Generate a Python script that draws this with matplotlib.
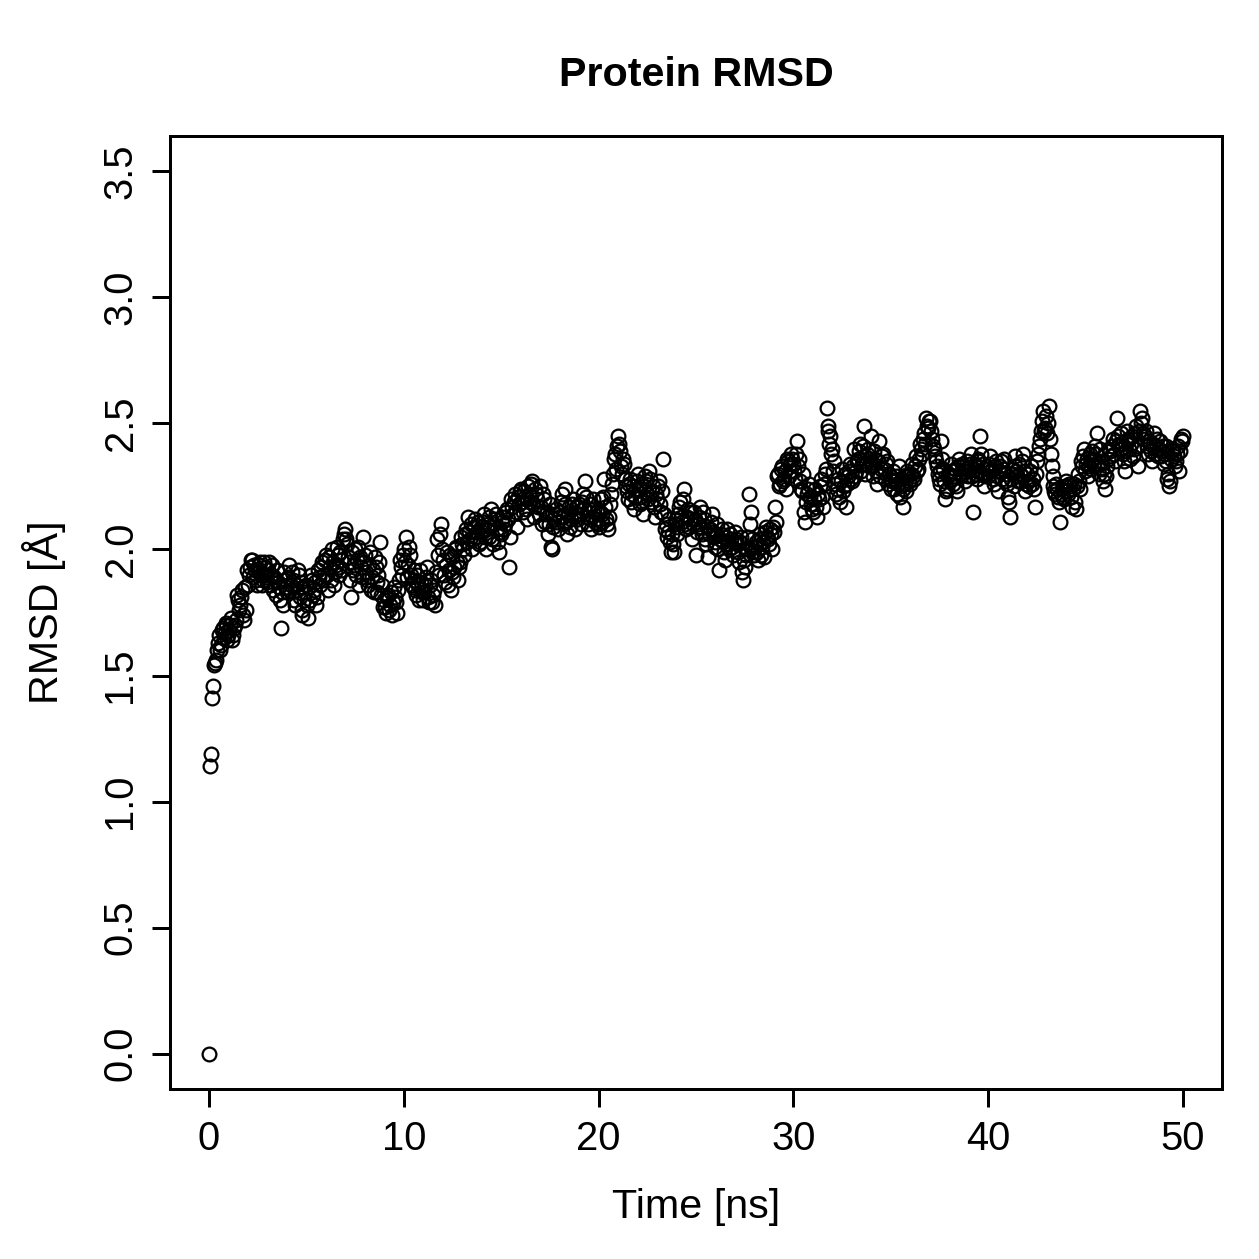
import matplotlib
matplotlib.use("Agg")
import matplotlib.pyplot as plt
import numpy as np

plt.rcParams['font.family'] = ['Liberation Sans', 'DejaVu Sans']

# RMSD values, one row per ns.
# frames at whole tenths of a ns (0.0, 0.1, ... 50.0)
rmsd_a = [
    0.00, 1.19, 1.46, 1.55, 1.60, 1.66, 1.62, 1.69, 1.67, 1.70,
    1.66, 1.70, 1.64, 1.69, 1.72, 1.80, 1.78, 1.84, 1.72, 1.76,
    1.86, 1.93, 1.96, 1.94, 1.88, 1.92, 1.95, 1.86, 1.90, 1.93,
    1.87, 1.95, 1.90, 1.84, 1.88, 1.92, 1.85, 1.69, 1.78, 1.88,
    1.83, 1.94, 1.86, 1.88, 1.78, 1.84, 1.90, 1.87, 1.74, 1.80,
    1.86, 1.73, 1.80, 1.88, 1.84, 1.78, 1.92, 1.86, 1.95, 1.90,
    1.98, 1.84, 1.93, 2.00, 1.86, 1.94, 1.98, 1.90, 1.96, 2.04,
    2.08, 2.02, 1.95, 1.81, 1.92, 2.00, 1.96, 1.86, 1.93, 2.05,
    1.98, 1.88, 1.94, 1.84, 1.92, 1.97, 1.83, 1.90, 2.03, 1.86,
    1.80, 1.75, 1.82, 1.78, 1.74, 1.85, 1.79, 1.84, 1.96, 1.90,
    2.00, 2.05, 1.94, 1.98, 1.86, 1.92, 1.84, 1.90, 1.80, 1.87,
    1.80, 1.86, 1.93, 1.79, 1.88, 1.82, 1.78, 2.04, 1.90, 2.10,
    1.96, 1.87, 1.99, 1.92, 1.84, 1.97, 1.93, 2.01, 1.88, 1.95,
    2.02, 1.98, 2.08, 2.13, 2.04, 2.00, 2.09, 2.05, 2.11, 2.03,
    2.07, 2.14, 2.00, 2.10, 2.05, 2.16, 2.02, 2.12, 2.08, 1.99,
    2.06, 2.13, 2.10, 2.16, 1.93, 2.20, 2.14, 2.22, 2.09, 2.18,
    2.24, 2.15, 2.21, 2.12, 2.25, 2.19, 2.27, 2.13, 2.22, 2.17,
    2.25, 2.10, 2.20, 2.14, 2.06, 2.18, 2.00, 2.12, 2.16, 2.08,
    2.15, 2.22, 2.10, 2.24, 2.06, 2.17, 2.12, 2.20, 2.08, 2.14,
    2.18, 2.10, 2.22, 2.27, 2.13, 2.16, 2.08, 2.20, 2.11, 2.15,
    2.09, 2.20, 2.14, 2.28, 2.12, 2.08, 2.18, 2.26, 2.36, 2.32,
    2.45, 2.39, 2.30, 2.34, 2.25, 2.20, 2.28, 2.22, 2.16, 2.24,
    2.30, 2.18, 2.26, 2.14, 2.29, 2.22, 2.31, 2.19, 2.25, 2.13,
    2.20, 2.27, 2.15, 2.36, 2.08, 2.05, 2.12, 1.99, 2.02, 2.10,
    2.06, 2.14, 2.19, 2.11, 2.24, 2.08, 2.16, 2.12, 2.04, 2.15,
    1.98, 2.10, 2.17, 2.06, 2.12, 2.02, 1.97, 2.08, 2.14, 2.05,
    2.01, 2.10, 1.92, 2.06, 2.03, 1.96, 2.08, 2.00, 2.04, 1.98,
    2.07, 2.02, 1.95, 2.05, 1.88, 1.93, 2.00, 2.22, 2.15, 2.04,
    1.98, 2.03, 1.96, 2.06, 2.01, 1.97, 2.09, 2.04, 2.08, 2.00,
    2.07, 2.11, 2.30, 2.26, 2.33, 2.28, 2.24, 2.35, 2.31, 2.38,
    2.34, 2.28, 2.43, 2.36, 2.24, 2.30, 2.11, 2.22, 2.26, 2.18,
    2.15, 2.24, 2.13, 2.20, 2.28, 2.17, 2.30, 2.56, 2.49, 2.45,
    2.40, 2.35, 2.22, 2.28, 2.19, 2.32, 2.25, 2.17, 2.29, 2.34,
    2.27, 2.40, 2.31, 2.36, 2.42, 2.34, 2.49, 2.30, 2.38, 2.33,
    2.45, 2.29, 2.36, 2.26, 2.43, 2.32, 2.38, 2.28, 2.35, 2.30,
    2.24, 2.31, 2.27, 2.22, 2.33, 2.25, 2.17, 2.29, 2.23, 2.30,
    2.26, 2.34, 2.28, 2.37, 2.32, 2.42, 2.38, 2.46, 2.52, 2.48,
    2.51, 2.44, 2.40, 2.35, 2.30, 2.26, 2.43, 2.32, 2.20, 2.24,
    2.30, 2.34, 2.26, 2.32, 2.23, 2.36, 2.29, 2.33, 2.27, 2.35,
    2.31, 2.38, 2.15, 2.34, 2.28, 2.36, 2.45, 2.30, 2.25, 2.33,
    2.29, 2.37, 2.32, 2.26, 2.35, 2.23, 2.33, 2.28, 2.36, 2.30,
    2.21, 2.13, 2.32, 2.25, 2.37, 2.29, 2.34, 2.27, 2.38, 2.23,
    2.30, 2.25, 2.33, 2.28, 2.17, 2.35, 2.41, 2.47, 2.55, 2.48,
    2.46, 2.57, 2.38, 2.29, 2.23, 2.26, 2.21, 2.11, 2.24, 2.20,
    2.27, 2.22, 2.25, 2.17, 2.26, 2.16, 2.30, 2.24, 2.33, 2.40,
    2.34, 2.29, 2.38, 2.32, 2.36, 2.41, 2.46, 2.30, 2.35, 2.27,
    2.24, 2.33, 2.40, 2.37, 2.44, 2.35, 2.52, 2.42, 2.46, 2.38,
    2.31, 2.47, 2.43, 2.36, 2.45, 2.40, 2.49, 2.33, 2.55, 2.52,
    2.44, 2.47, 2.38, 2.42, 2.35, 2.46, 2.40, 2.37, 2.43, 2.39,
    2.34, 2.41, 2.28, 2.25, 2.36, 2.40, 2.33, 2.38, 2.31, 2.44,
    2.45,
]

# frames in between (0.05, 0.15, ... 49.95)
rmsd_b = [
    1.14, 1.41, 1.54, 1.56, 1.63, 1.60, 1.68, 1.65, 1.71, 1.64,
    1.68, 1.73, 1.66, 1.70, 1.82, 1.76, 1.81, 1.74, 1.85, 1.92,
    1.90, 1.96, 1.89, 1.92, 1.86, 1.94, 1.90, 1.88, 1.95, 1.89,
    1.92, 1.86, 1.94, 1.89, 1.82, 1.87, 1.80, 1.83, 1.91, 1.85,
    1.89, 1.84, 1.91, 1.80, 1.86, 1.92, 1.81, 1.76, 1.85, 1.83,
    1.78, 1.85, 1.90, 1.82, 1.87, 1.81, 1.89, 1.93, 1.88, 1.96,
    1.90, 1.97, 1.88, 1.95, 1.91, 2.01, 1.93, 1.99, 1.92, 2.06,
    2.04, 1.97, 1.88, 1.99, 1.94, 1.90, 2.01, 1.97, 1.89, 1.95,
    1.91, 1.86, 1.99, 1.89, 1.83, 1.93, 1.87, 1.95, 1.82, 1.77,
    1.77, 1.81, 1.76, 1.83, 1.79, 1.81, 1.75, 1.88, 1.93, 1.98,
    1.95, 1.89, 2.01, 1.90, 1.85, 1.88, 1.82, 1.86, 1.92, 1.83,
    1.83, 1.89, 1.81, 1.86, 1.79, 1.84, 1.91, 1.98, 2.06, 2.00,
    1.90, 1.94, 1.86, 1.98, 1.91, 1.89, 2.00, 1.95, 1.93, 2.05,
    2.00, 2.06, 2.03, 2.07, 2.10, 2.04, 2.12, 2.07, 2.02, 2.09,
    2.11, 2.05, 2.08, 2.13, 2.09, 2.04, 2.10, 2.14, 2.03, 2.07,
    2.11, 2.08, 2.15, 2.12, 2.05, 2.17, 2.19, 2.15, 2.21, 2.23,
    2.19, 2.23, 2.16, 2.20, 2.22, 2.26, 2.18, 2.24, 2.20, 2.14,
    2.17, 2.22, 2.11, 2.15, 2.10, 2.01, 2.09, 2.14, 2.11, 2.13,
    2.19, 2.13, 2.18, 2.11, 2.14, 2.09, 2.18, 2.13, 2.17, 2.12,
    2.14, 2.19, 2.16, 2.21, 2.10, 2.18, 2.13, 2.16, 2.12, 2.10,
    2.15, 2.11, 2.21, 2.17, 2.10, 2.13, 2.22, 2.30, 2.38, 2.41,
    2.42, 2.33, 2.36, 2.28, 2.23, 2.26, 2.19, 2.25, 2.21, 2.27,
    2.24, 2.21, 2.19, 2.25, 2.27, 2.20, 2.28, 2.23, 2.17, 2.22,
    2.25, 2.18, 2.23, 2.14, 2.10, 2.07, 2.03, 2.06, 1.99, 2.12,
    2.09, 2.17, 2.13, 2.20, 2.10, 2.13, 2.09, 2.15, 2.10, 2.12,
    2.07, 2.13, 2.09, 2.15, 2.04, 2.09, 2.06, 2.11, 2.07, 2.03,
    2.06, 2.00, 2.04, 2.08, 1.99, 2.05, 2.02, 2.06, 2.01, 2.03,
    2.04, 1.99, 2.03, 1.91, 1.96, 1.98, 2.05, 2.10, 2.01, 1.99,
    2.01, 1.99, 2.04, 1.98, 2.03, 2.07, 2.05, 2.02, 2.06, 2.09,
    2.17, 2.29, 2.25, 2.32, 2.27, 2.31, 2.36, 2.29, 2.34, 2.36,
    2.31, 2.38, 2.33, 2.27, 2.23, 2.15, 2.19, 2.24, 2.21, 2.16,
    2.20, 2.17, 2.22, 2.25, 2.21, 2.26, 2.32, 2.47, 2.42, 2.38,
    2.31, 2.26, 2.24, 2.21, 2.27, 2.23, 2.30, 2.26, 2.31, 2.28,
    2.33, 2.29, 2.35, 2.39, 2.31, 2.41, 2.37, 2.34, 2.40, 2.36,
    2.33, 2.39, 2.31, 2.35, 2.29, 2.37, 2.32, 2.34, 2.26, 2.28,
    2.27, 2.24, 2.29, 2.26, 2.21, 2.28, 2.24, 2.26, 2.31, 2.27,
    2.30, 2.29, 2.33, 2.31, 2.36, 2.40, 2.44, 2.42, 2.49, 2.51,
    2.47, 2.41, 2.37, 2.33, 2.28, 2.31, 2.36, 2.27, 2.23, 2.29,
    2.27, 2.31, 2.29, 2.25, 2.33, 2.30, 2.34, 2.31, 2.32, 2.29,
    2.34, 2.29, 2.32, 2.30, 2.35, 2.31, 2.38, 2.34, 2.29, 2.32,
    2.34, 2.31, 2.28, 2.33, 2.29, 2.31, 2.35, 2.32, 2.27, 2.26,
    2.19, 2.28, 2.30, 2.33, 2.31, 2.27, 2.30, 2.35, 2.31, 2.26,
    2.27, 2.31, 2.26, 2.24, 2.30, 2.38, 2.44, 2.51, 2.47, 2.53,
    2.50, 2.44, 2.33, 2.25, 2.22, 2.24, 2.19, 2.22, 2.21, 2.25,
    2.23, 2.26, 2.21, 2.24, 2.19, 2.25, 2.27, 2.35, 2.37, 2.31,
    2.36, 2.33, 2.35, 2.39, 2.33, 2.38, 2.34, 2.40, 2.32, 2.30,
    2.29, 2.36, 2.39, 2.41, 2.38, 2.43, 2.45, 2.40, 2.42, 2.35,
    2.39, 2.44, 2.40, 2.42, 2.37, 2.46, 2.41, 2.47, 2.50, 2.46,
    2.45, 2.41, 2.43, 2.39, 2.42, 2.38, 2.44, 2.40, 2.37, 2.41,
    2.38, 2.35, 2.30, 2.27, 2.39, 2.37, 2.35, 2.41, 2.39, 2.43,
]
dt = 0.1  # ns between frames of each list
time_a = np.arange(len(rmsd_a)) * dt
time_b = np.arange(len(rmsd_b)) * dt + dt / 2

xticks = [0, 10, 20, 30, 40, 50]
yticks = [0.0, 0.5, 1.0, 1.5, 2.0, 2.5, 3.0, 3.5]

fig = plt.figure(figsize=(1259 / 180, 1259 / 180), dpi=180)
ax = fig.add_axes([170 / 1259, 1 - 1089 / 1259, 1052 / 1259, 953 / 1259])

marker_kw = dict(linestyle='none', marker='o', markersize=5.5,
                 markerfacecolor='none', markeredgecolor='black',
                 markeredgewidth=0.9)
ax.plot(time_a, rmsd_a, **marker_kw)
ax.plot(time_b, rmsd_b, **marker_kw)

ax.set_xlim(-2, 52)
ax.set_ylim(-0.14, 3.64)
ax.set_xticks(xticks)
ax.set_xticklabels([str(v) for v in xticks])
ax.set_yticks(yticks)
ax.set_yticklabels([f"{v:.1f}" for v in yticks], rotation=90, va='center')

for s in ax.spines.values():
    s.set_linewidth(1.2)
ax.tick_params(direction='out', length=7.2, width=1.2, pad=5, labelsize=16)

ax.set_title('Protein RMSD', fontsize=16.5, fontweight='bold', pad=20)
ax.set_xlabel('Time [ns]', fontsize=16.5, labelpad=12)
ax.set_ylabel('RMSD [Å]', fontsize=16.5, labelpad=14)

fig.savefig('out.png', dpi=180)
